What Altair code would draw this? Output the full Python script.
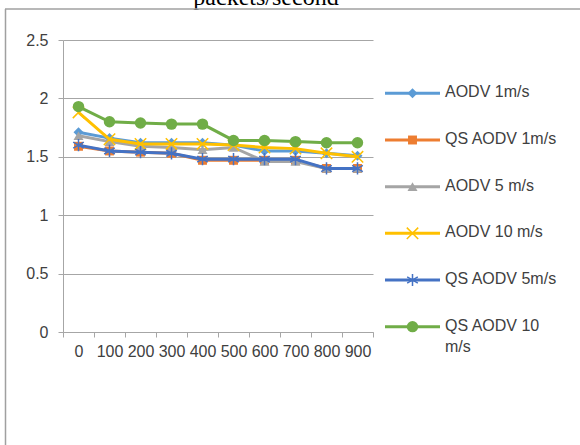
import altair as alt
import pandas as pd

title_text = "packets/second"
x_values = [0, 100, 200, 300, 400, 500, 600, 700, 800, 900]

series = ["AODV 1m/s", "QS AODV 1m/s", "AODV 5 m/s", "AODV 10 m/s", "QS AODV 5m/s", "QS AODV 10 m/s"]
legend_labels = ["AODV 1m/s", "QS AODV 1m/s", "AODV 5 m/s", "AODV 10 m/s", "QS AODV 5m/s", "QS AODV 10\nm/s"]
colors = ["#5B9BD5", "#ED7D31", "#A5A5A5", "#FFC000", "#4472C4", "#70AD47"]

aodv_1 = [1.71, 1.66, 1.62, 1.62, 1.62, 1.60, 1.55, 1.55, 1.53, 1.51]
qs_aodv_1 = [1.59, 1.55, 1.54, 1.53, 1.47, 1.47, 1.47, 1.47, 1.40, 1.40]
aodv_5 = [1.68, 1.63, 1.59, 1.58, 1.56, 1.58, 1.46, 1.46, 1.40, 1.40]
aodv_10 = [1.88, 1.65, 1.61, 1.61, 1.61, 1.60, 1.58, 1.57, 1.53, 1.50]
qs_aodv_5 = [1.60, 1.55, 1.54, 1.53, 1.48, 1.48, 1.48, 1.48, 1.40, 1.40]
qs_aodv_10 = [1.93, 1.80, 1.79, 1.78, 1.78, 1.64, 1.64, 1.63, 1.62, 1.62]
all_values = [aodv_1, qs_aodv_1, aodv_5, aodv_10, qs_aodv_5, qs_aodv_10]

# marker styles
cross_path = "M-1,-1L1,1M-1,1L1,-1"
star_path = "M0,-1V1M-0.87,-0.5L0.87,0.5M-0.87,0.5L0.87,-0.5"
shapes = ["diamond", "square", "triangle-up", cross_path, star_path, "circle"]
filled = [True, True, True, False, False, True]
sizes = [100, 80, 100, 130, 150, 130]

FONT = "Liberation Sans"

rows = []
for s, vals in zip(series, all_values):
    for x, v in zip(x_values, vals):
        rows.append({"series": s, "x": x, "value": v})
df = pd.DataFrame(rows)
leg_df = pd.DataFrame({"series": series, "label": legend_labels})

x_enc = alt.X(
    "x:Q",
    scale=alt.Scale(domain=[-50, 950], nice=False, zero=False),
    axis=alt.Axis(
        values=list(range(-50, 1000, 100)),
        labelExpr="datum.value >= 950 ? '' : '' + (datum.value + 50)",
        labelOffset=15.5,
        grid=False,
        title=None,
        domainColor="#A6A6A6",
        tickColor="#A6A6A6",
        tickSize=5,
        labelFont=FONT,
        labelFontSize=16,
        labelColor="#404040",
        labelPadding=6,
        labelBaseline="top",
        labelFlush=False,
        labelOverlap=False,
    ),
)
y_enc = alt.Y(
    "value:Q",
    scale=alt.Scale(domain=[0, 2.5], nice=False),
    axis=alt.Axis(
        values=[0, 0.5, 1, 1.5, 2, 2.5],
        labelExpr="'' + datum.value",
        title=None,
        grid=True,
        gridColor="#A6A6A6",
        gridWidth=1,
        domainColor="#A6A6A6",
        tickColor="#A6A6A6",
        tickSize=5,
        labelFont=FONT,
        labelFontSize=16,
        labelColor="#404040",
        labelPadding=10,
        labelFlush=False,
    ),
)

base = alt.Chart(df)
main_layers = []
for i, s in enumerate(series):
    sub = base.transform_filter(alt.datum.series == s)
    main_layers.append(
        sub.mark_line(color=colors[i], strokeWidth=3).encode(x=x_enc, y=y_enc)
    )
    if filled[i]:
        pt = sub.mark_point(shape=shapes[i], filled=True, color=colors[i], size=sizes[i], opacity=1)
    else:
        pt = sub.mark_point(shape=shapes[i], filled=False, color=colors[i], size=sizes[i], strokeWidth=1.5, opacity=1)
    main_layers.append(pt.encode(x=x_enc, y=y_enc))

# title (clipped at the top of the page like the reference)
title_layer = alt.Chart(pd.DataFrame({"t": [title_text]})).mark_text(
    font="Liberation Serif", fontSize=24, color="#000000", baseline="alphabetic", align="center"
).encode(text="t:N", x=alt.value(203), y=alt.value(-35))

frame_left = alt.Chart(pd.DataFrame({"a": [0]})).mark_rule(color="#A0A0A0", strokeWidth=1.5).encode(
    x=alt.value(-57.5), y=alt.value(-31), y2=alt.value(420)
)
frame_top = alt.Chart(pd.DataFrame({"a": [0]})).mark_rule(color="#A0A0A0", strokeWidth=1.5).encode(
    x=alt.value(-58), x2=alt.value(530), y=alt.value(-31)
)

main = alt.layer(*main_layers, title_layer, frame_left, frame_top)

# legend
leg_y = alt.Y("series:N", scale=alt.Scale(domain=series, range=[30, 310]), axis=None)
leg_base = alt.Chart(leg_df)
leg_layers = []
for i, s in enumerate(series):
    sub = leg_base.transform_filter(alt.datum.series == s)
    leg_layers.append(
        sub.mark_rule(color=colors[i], strokeWidth=3).encode(x=alt.value(322), x2=alt.value(377), y=leg_y)
    )
    if filled[i]:
        pt = sub.mark_point(shape=shapes[i], filled=True, color=colors[i], size=sizes[i], opacity=1)
    else:
        pt = sub.mark_point(shape=shapes[i], filled=False, color=colors[i], size=sizes[i], strokeWidth=1.5, opacity=1)
    leg_layers.append(pt.encode(x=alt.value(349.5), y=leg_y))
    leg_layers.append(
        sub.mark_text(font=FONT, fontSize=16, color="#404040", align="left", baseline="top", dy=-9,
                      lineBreak="\n", lineHeight=21)
        .encode(x=alt.value(382), y=leg_y, text="label:N")
    )
legend = alt.layer(*leg_layers)

chart = (
    alt.layer(main, legend)
    .resolve_scale(y="independent")
    .properties(
        width=310,
        height=292,
        autosize=alt.AutoSizeParams(type="none"),
        padding={"left": 63, "top": 40, "right": 207, "bottom": 113},
        background="white",
    )
    .configure_view(stroke=None)
)

chart.save("out.html", embed_options={"renderer": "svg", "actions": False})
